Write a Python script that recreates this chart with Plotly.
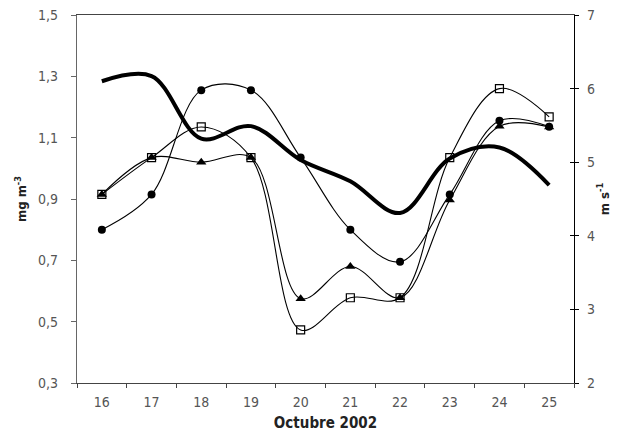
import plotly.graph_objects as go

# Days of October 2002
days = ["16", "17", "18", "19", "20", "21", "22", "23", "24", "25"]

# Concentrations (mg m-3), left axis
serie_circulos = [0.80, 0.915, 1.255, 1.255, 1.035, 0.80, 0.695, 0.915, 1.155, 1.136]
serie_triangulos = [0.915, 1.035, 1.02, 1.035, 0.575, 0.68, 0.578, 0.897, 1.137, 1.135]
serie_cuadrados = [0.915, 1.035, 1.135, 1.035, 0.473, 0.578, 0.578, 1.035, 1.26, 1.168]

# Wind speed (m s-1), right axis
viento = [6.10, 6.17, 5.32, 5.49, 5.03, 4.74, 4.31, 5.05, 5.20, 4.69]

FONT = "Liberation Sans Narrow, DejaVu Sans Condensed, Arial Narrow, sans-serif"
TICK_COLOR = "#555555"

fig = go.Figure()

fig.add_trace(go.Scatter(
    x=days, y=viento, yaxis="y2", mode="lines",
    line=dict(color="black", width=4, shape="spline", smoothing=1.0),
    showlegend=False, hoverinfo="skip",
))
fig.add_trace(go.Scatter(
    x=days, y=serie_circulos, mode="lines+markers",
    line=dict(color="black", width=1.1, shape="spline", smoothing=1.0),
    marker=dict(symbol="circle", size=8, color="black"),
    showlegend=False,
))
fig.add_trace(go.Scatter(
    x=days, y=serie_triangulos, mode="lines+markers",
    line=dict(color="black", width=1.1, shape="spline", smoothing=1.0),
    marker=dict(symbol="triangle-up", size=9, color="black"),
    showlegend=False,
))
fig.add_trace(go.Scatter(
    x=days, y=serie_cuadrados, mode="lines+markers",
    line=dict(color="black", width=1.1, shape="spline", smoothing=1.0),
    marker=dict(symbol="square-open", size=8, color="black", line=dict(width=1.2, color="black")),
    showlegend=False,
))

fig.update_layout(
    width=634, height=434,
    margin=dict(l=77, r=60, t=15, b=51),
    paper_bgcolor="white", plot_bgcolor="white",
    separators=", ",
    font=dict(family=FONT, size=14, color=TICK_COLOR),
    xaxis=dict(
        type="category", categoryorder="array", categoryarray=days,
        range=[-0.5, 9.5], automargin=False,
        showline=True, linecolor="#444444", linewidth=1.2, mirror=True,
        ticks="outside", tickson="boundaries", ticklen=4, tickcolor="#444444",
        showgrid=False, zeroline=False,
        tickfont=dict(family=FONT, size=14, color=TICK_COLOR),
        ticklabelstandoff=6,
        title=dict(text="<b>Octubre 2002</b>", standoff=8,
                   font=dict(family=FONT, size=15, color="#222222")),
    ),
    yaxis=dict(
        range=[0.3, 1.5], dtick=0.2, tick0=0.3, tickformat=".1f", automargin=False,
        showline=True, linecolor="#666666", linewidth=1.2,
        ticks="outside", ticklen=5, tickcolor="#666666",
        showgrid=False, zeroline=False,
        tickfont=dict(family=FONT, size=14, color=TICK_COLOR),
        ticklabelstandoff=10,
        title=dict(text="<b>mg m<sup>-3</sup></b>", standoff=8,
                   font=dict(family=FONT, size=13, color="#222222")),
    ),
    yaxis2=dict(
        range=[2, 7], dtick=1, overlaying="y", side="right", anchor="x", automargin=False,
        showline=True, linecolor="black", linewidth=1.2,
        ticks="outside", ticklen=4, tickcolor="black",
        showgrid=False, zeroline=False,
        tickfont=dict(family=FONT, size=14, color=TICK_COLOR),
        ticklabelstandoff=5,
        title=dict(text="<b>m s<sup>-1</sup></b>", standoff=5,
                   font=dict(family=FONT, size=13, color="#222222")),
    ),
    yaxis3=dict(
        range=[2, 7], dtick=1, overlaying="y", side="right", anchor="x", automargin=False,
        showline=False, ticks="inside", ticklen=4, tickcolor="black",
        showticklabels=False, showgrid=False, zeroline=False,
    ),
)

# Invisible trace to draw the inner half of the right-axis ticks
fig.add_trace(go.Scatter(x=[days[0]], y=[None], yaxis="y3", mode="markers",
                         showlegend=False, hoverinfo="skip"))

fig.write_html("out.html")
